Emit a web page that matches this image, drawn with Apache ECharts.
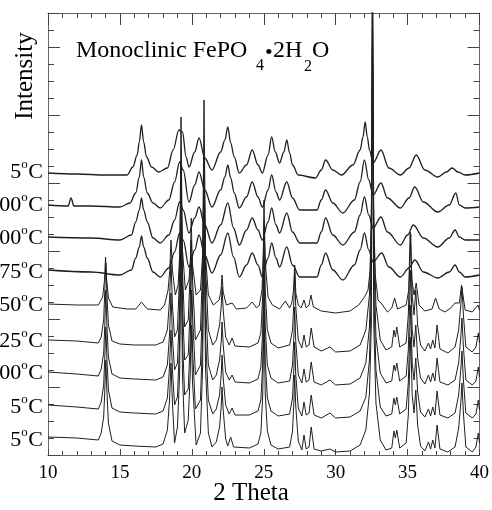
<!DOCTYPE html>
<html><head><meta charset="utf-8">
<script src="https://cdn.jsdelivr.net/npm/echarts@6/dist/echarts.min.js"></script>
<style>html,body{margin:0;padding:0;background:#fff}#c{width:492px;height:510px}</style>
</head><body><div id="c"></div>
<script>
// ---- data (2-theta, stacked intensity in arbitrary units) ----
const xTicks = [10, 15, 20, 25, 30, 35, 40];
const tempLabels = ['5', '00', '00', '75', '50', '25', '00', '5', '5'];

const trace1 = [[10,282],[12,281],[14,280],[15.5,280],[15.9,288],[16.2,300],[16.35,313],[16.5,330],[16.65,313],[16.85,298],[17.2,288],[17.7,283],[18.3,287],[18.7,305],[19.1,325],[19.35,323],[19.6,298],[19.8,288],[20.2,303],[20.5,317],[20.9,297],[21.4,285],[22.0,303],[22.3,315],[22.5,328],[22.7,312],[22.95,298],[23.3,282],[23.8,290],[24.2,305],[24.6,290],[24.9,282],[25.3,300],[25.55,318],[25.8,303],[26.1,292],[26.4,303],[26.6,315],[26.8,302],[27.0,290],[27.4,280],[28.6,277],[29.0,285],[29.3,295],[29.8,285],[30.4,280],[31.2,290],[31.7,305],[31.9,318],[32.05,333],[32.2,318],[32.35,305],[32.6,292],[33.15,305],[33.7,287],[34.5,280],[35.1,287],[35.6,300],[36.2,285],[37.1,278],[37.7,283],[38.1,287],[38.5,283],[39.0,280],[40,282]];
const trace2 = [[10,250],[11.4,249],[11.6,257],[11.8,249],[13,249],[15.0,248],[15.7,252],[16.1,262],[16.35,278],[16.5,295],[16.65,278],[16.9,262],[17.3,252],[17.8,247],[18.4,255],[18.8,273],[19.15,293],[19.4,285],[19.8,253],[20.2,270],[20.5,283],[20.9,265],[21.4,248],[22.0,265],[22.3,278],[22.5,290],[22.7,277],[22.95,262],[23.3,247],[23.8,258],[24.2,273],[24.6,258],[24.9,248],[25.3,265],[25.55,280],[25.85,263],[26.1,255],[26.6,273],[27.0,257],[27.5,245],[28.7,245],[29.0,255],[29.3,265],[29.8,252],[30.5,242],[31.3,255],[31.7,273],[32.0,295],[32.3,275],[32.6,260],[33.15,272],[33.6,257],[34.5,247],[35.1,257],[35.5,268],[36.1,253],[37.1,243],[37.9,250],[38.35,262],[38.6,250],[39.0,247],[40,248]];
const trace3 = [[10,218],[13,217],[15.0,215],[15.8,220],[16.1,233],[16.35,245],[16.5,257],[16.65,245],[16.9,233],[17.3,217],[17.8,212],[18.4,220],[18.8,235],[19.15,253],[19.4,245],[19.8,222],[20.2,237],[20.5,248],[20.9,230],[21.4,212],[22.0,230],[22.5,252],[22.9,227],[23.3,210],[23.8,225],[24.2,237],[24.6,225],[24.9,215],[25.3,233],[25.55,247],[25.85,230],[26.1,222],[26.6,242],[27.0,223],[27.5,212],[28.7,212],[29.0,223],[29.3,237],[29.8,220],[30.5,210],[31.3,223],[31.7,240],[32.0,258],[32.3,240],[32.6,227],[33.15,238],[33.6,223],[34.5,210],[35.0,220],[35.4,230],[36.1,217],[37.1,208],[37.9,217],[38.3,225],[38.6,218],[39.0,215],[40,215]];
const trace4 = [[10,185],[13,183],[15.0,180],[15.8,185],[16.1,197],[16.35,208],[16.5,219],[16.65,208],[16.9,197],[17.3,183],[17.8,178],[18.4,187],[18.8,203],[19.15,222],[19.4,215],[19.8,188],[20.2,205],[20.5,220],[20.9,200],[21.4,182],[22.0,200],[22.5,222],[22.9,198],[23.3,178],[23.8,190],[24.2,202],[24.6,190],[24.9,178],[25.3,197],[25.55,212],[25.85,197],[26.1,188],[26.6,208],[27.0,190],[27.5,178],[28.7,178],[29.0,190],[29.3,202],[29.8,185],[30.5,175],[31.3,190],[31.7,205],[32.0,222],[32.3,205],[32.6,193],[33.2,202],[33.7,188],[34.5,178],[35.1,187],[35.5,195],[36.1,183],[37.1,177],[37.9,183],[38.3,190],[38.6,183],[39.0,178],[40,180]];
const trace5 = [[10,151],[12,150],[13.5,150],[13.8,158],[13.93,175],[14.0,198],[14.08,175],[14.2,157],[14.5,148],[15.5,146],[16.1,146],[16.5,153],[16.9,146],[17.8,145],[18.1,150],[18.35,165],[18.47,185],[18.55,215],[18.65,185],[18.85,160],[19.05,170],[19.17,205],[19.25,275],[19.35,205],[19.55,165],[19.8,175],[19.9,195],[19.95,215],[20.05,190],[20.3,160],[20.6,165],[20.75,200],[20.85,295],[20.95,200],[21.15,160],[21.5,150],[21.9,155],[22.03,165],[22.1,180],[22.18,163],[22.4,150],[22.8,152],[23.1,146],[23.8,147],[24.2,153],[24.5,147],[24.7,150],[24.88,165],[24.97,200],[25.03,235],[25.12,190],[25.3,158],[25.6,150],[26.1,146],[26.5,154],[26.8,147],[26.95,152],[27.07,165],[27.15,190],[27.23,162],[27.4,150],[27.6,147],[27.8,155],[27.95,147],[28.15,150],[28.28,160],[28.45,148],[29.0,144],[30.0,142],[31.0,144],[31.6,150],[32.0,158],[32.25,165],[32.4,185],[32.5,260],[32.56,460],[32.63,250],[32.75,180],[32.95,155],[33.15,152],[33.6,143],[33.9,147],[34.1,157],[34.3,146],[34.9,150],[35.08,165],[35.18,223],[35.3,175],[35.45,160],[35.6,172],[35.8,150],[36.2,144],[36.7,146],[36.95,157],[37.2,146],[37.6,143],[38.0,147],[38.3,152],[38.6,152],[38.75,170],[38.85,160],[39.0,145],[39.5,143],[39.9,150],[40,145]];
const trace6 = [[10,115],[12,114],[13.5,112],[13.7,118],[13.87,135],[13.95,165],[14.02,192],[14.1,160],[14.2,130],[14.45,114],[15,111],[16,110],[17.5,110],[18.0,113],[18.3,125],[18.45,155],[18.55,195],[18.65,150],[18.8,118],[19.0,125],[19.15,180],[19.25,338],[19.35,185],[19.5,128],[19.75,135],[19.88,180],[19.96,237],[20.05,175],[20.25,115],[20.6,125],[20.75,190],[20.85,355],[20.95,190],[21.15,125],[21.45,110],[21.7,115],[21.93,130],[22.05,150],[22.1,168],[22.18,145],[22.35,118],[22.6,110],[22.8,117],[23.0,109],[24.0,108],[24.6,112],[24.8,122],[24.93,160],[25.02,255],[25.1,165],[25.25,125],[25.5,112],[26.0,107],[26.8,110],[27.0,125],[27.1,155],[27.15,183],[27.22,150],[27.4,115],[27.65,107],[27.8,120],[27.95,108],[28.15,110],[28.3,127],[28.5,108],[29.0,104],[29.6,108],[30.0,103],[31.0,104],[31.7,110],[32.1,125],[32.35,160],[32.48,230],[32.56,500],[32.65,230],[32.8,150],[33.1,115],[33.5,105],[33.9,108],[34.05,125],[34.15,118],[34.25,128],[34.45,108],[34.9,112],[35.05,140],[35.15,190],[35.22,221],[35.32,160],[35.45,140],[35.57,165],[35.7,130],[35.9,110],[36.2,104],[36.45,112],[36.6,106],[36.75,115],[36.9,107],[37.05,130],[37.25,106],[37.8,102],[38.3,108],[38.55,125],[38.7,150],[38.78,168],[38.88,140],[39.05,108],[39.5,103],[39.75,108],[39.92,122],[40,112]];
const trace7 = [[10,83],[12,81],[13.5,79],[13.7,86],[13.87,102],[13.95,130],[14.02,165],[14.1,128],[14.2,98],[14.45,81],[15,77],[16,76],[17.5,75],[18.0,78],[18.3,90],[18.45,120],[18.55,162],[18.65,118],[18.8,85],[19.0,92],[19.15,145],[19.25,290],[19.35,150],[19.5,95],[19.75,100],[19.88,145],[19.96,200],[20.05,140],[20.25,80],[20.6,90],[20.75,155],[20.85,300],[20.95,155],[21.15,90],[21.45,75],[21.7,80],[21.93,95],[22.05,115],[22.1,133],[22.18,110],[22.35,83],[22.6,75],[22.8,80],[23.0,73],[24.0,72],[24.6,76],[24.8,88],[24.93,125],[25.02,210],[25.1,130],[25.25,90],[25.5,77],[26.0,72],[26.8,74],[27.0,90],[27.1,120],[27.15,148],[27.22,115],[27.4,80],[27.65,72],[27.8,86],[27.95,73],[28.15,75],[28.3,93],[28.5,73],[29.0,70],[29.6,75],[30.0,70],[31.0,71],[31.7,77],[32.1,92],[32.35,128],[32.48,200],[32.56,470],[32.65,200],[32.8,118],[33.1,82],[33.5,72],[33.9,74],[34.05,90],[34.15,84],[34.25,92],[34.45,74],[34.9,79],[35.05,105],[35.15,155],[35.22,185],[35.32,125],[35.45,108],[35.57,130],[35.7,97],[35.9,77],[36.2,71],[36.45,80],[36.6,73],[36.75,82],[36.9,74],[37.05,97],[37.25,73],[37.8,70],[38.3,75],[38.55,92],[38.7,118],[38.78,137],[38.88,108],[39.05,75],[39.5,70],[39.75,74],[39.92,88],[40,78]];
const trace8 = [[10,50],[12,48],[13.5,46],[13.7,53],[13.87,70],[13.95,98],[14.02,128],[14.1,95],[14.2,65],[14.45,47],[15,43],[16,42],[17.5,41],[18.0,44],[18.3,57],[18.45,88],[18.55,125],[18.65,85],[18.8,50],[19.0,58],[19.15,112],[19.25,250],[19.35,115],[19.5,60],[19.75,66],[19.88,110],[19.96,165],[20.05,105],[20.25,46],[20.6,55],[20.75,120],[20.85,270],[20.95,120],[21.15,55],[21.45,41],[21.7,46],[21.93,60],[22.05,82],[22.1,100],[22.18,77],[22.35,50],[22.6,41],[22.8,47],[23.0,40],[24.0,40],[24.6,44],[24.8,55],[24.93,92],[25.02,180],[25.1,95],[25.25,57],[25.5,44],[26.0,39],[26.8,41],[27.0,57],[27.1,88],[27.15,113],[27.22,82],[27.4,47],[27.65,39],[27.8,53],[27.95,40],[28.15,42],[28.3,60],[28.5,40],[29.0,37],[29.6,42],[30.0,37],[31.0,38],[31.7,44],[32.1,58],[32.35,95],[32.48,165],[32.56,440],[32.65,165],[32.8,85],[33.1,48],[33.5,39],[33.9,41],[34.05,57],[34.15,50],[34.25,58],[34.45,41],[34.9,46],[35.05,72],[35.15,120],[35.22,150],[35.32,92],[35.45,75],[35.57,97],[35.7,63],[35.9,43],[36.2,38],[36.45,46],[36.6,39],[36.75,48],[36.9,40],[37.05,64],[37.25,40],[37.8,37],[38.3,42],[38.55,60],[38.7,85],[38.78,104],[38.88,75],[39.05,42],[39.5,37],[39.75,41],[39.92,55],[40,45]];
const trace9 = [[10,18],[12,17],[13.5,15],[13.7,22],[13.87,38],[13.95,65],[14.02,95],[14.1,62],[14.2,32],[14.45,14],[15,10],[16,9],[17.5,8],[18.0,11],[18.3,25],[18.45,55],[18.55,92],[18.65,52],[18.8,12],[19.0,28],[19.15,80],[19.25,215],[19.35,80],[19.5,22],[19.75,35],[19.88,78],[19.96,130],[20.05,72],[20.3,10],[20.6,22],[20.75,88],[20.85,235],[20.95,88],[21.15,22],[21.4,8],[21.7,13],[21.93,28],[22.05,50],[22.1,68],[22.18,45],[22.35,16],[22.5,9],[22.7,18],[22.9,8],[24.0,7],[24.6,11],[24.8,22],[24.93,60],[25.02,145],[25.1,62],[25.25,24],[25.5,10],[26.0,6],[26.8,8],[27.0,24],[27.1,55],[27.15,80],[27.22,50],[27.4,14],[27.65,5],[27.8,20],[27.95,6],[28.15,8],[28.3,28],[28.5,6],[29.0,4],[29.6,6],[30.0,3],[31.0,4],[31.7,10],[32.1,25],[32.35,62],[32.48,130],[32.56,410],[32.65,130],[32.8,52],[33.1,15],[33.5,5],[33.9,7],[34.05,24],[34.15,17],[34.25,25],[34.45,7],[34.9,12],[35.05,40],[35.15,88],[35.22,118],[35.32,60],[35.45,42],[35.57,65],[35.7,30],[35.9,9],[36.2,4],[36.45,13],[36.6,6],[36.75,15],[36.9,7],[37.05,30],[37.25,6],[37.8,3],[38.3,8],[38.55,27],[38.7,52],[38.78,72],[38.88,42],[39.05,8],[39.5,3],[39.75,8],[39.92,22],[40,12]];
const traces = [trace1, trace2, trace3, trace4, trace5, trace6, trace7, trace8, trace9];

// ---- layout ----
const serif = 'Liberation Serif';
const ctx = document.createElement('canvas').getContext('2d');
function tw(t, s) { ctx.font = s + 'px "' + serif + '"'; return ctx.measureText(t).width; }
const graphics = [];
function txt(x, y, t, s, align, extra) {
  graphics.push(Object.assign({ type: 'text', x: x, y: y, silent: true,
    style: { text: t, fontFamily: serif, fontSize: s, fill: '#000', align: align || 'left', verticalAlign: 'middle' } }, extra || {}));
}
// temperature labels (right edge at 43px)
const labelYs = [172, 205, 238, 272, 305, 341, 373, 407, 440];
tempLabels.forEach(function (d, i) {
  const y = labelYs[i];
  const wC = tw('C', 22), wo = tw('o', 13);
  txt(43 - wC, y, 'C', 22);
  txt(43 - wC - wo - 0.5, y - 7, 'o', 13);
  txt(43 - wC - wo - 0.5, y, d, 22, 'right');
});
// title with subscripts
txt(76, 51, 'Monoclinic FePO', 24);
txt(256, 66, '4', 16);
txt(265, 53, '\u2022', 22);
txt(273, 51, '2H', 24);
txt(304, 67, '2', 16);
txt(312, 51, 'O', 24);
// axis names
txt(25, 76, 'Intensity', 25, 'center', { rotation: Math.PI / 2 });
txt(251, 493, '2 Theta', 25, 'center');

const axisGray = '#666';
function yAx(pos, interval, len, showLine) {
  return { type: 'value', position: pos, min: 0, max: 442, interval: interval,
    axisLine: { show: showLine, lineStyle: { color: axisGray, width: 1 } },
    axisTick: { show: true, inside: true, length: len, lineStyle: { color: '#444' } },
    axisLabel: { show: false }, splitLine: { show: false } };
}
function xAx(pos, majorLen, minorLen, labels) {
  return { type: 'value', position: pos, min: 10, max: 40, interval: 5,
    axisLine: { show: true, onZero: false, lineStyle: { color: axisGray, width: 1 } },
    axisTick: { show: true, inside: true, length: majorLen, lineStyle: { color: '#444' } },
    minorTick: { show: true, splitNumber: 5, length: minorLen, lineStyle: { color: '#444' } },
    axisLabel: { show: labels, fontFamily: serif, fontSize: 19, color: '#000', margin: 9 },
    splitLine: { show: false } };
}

const chart = echarts.init(document.getElementById('c'), null, { renderer: 'canvas' });
chart.setOption({
  animation: false,
  backgroundColor: '#fff',
  grid: { left: 48, right: 10, top: 13, bottom: 55 },
  xAxis: [xAx('bottom', 6, 4, true), xAx('top', 12, 5, false)],
  yAxis: [yAx('left', 17, 6, true), yAx('left', 68, 12, false), yAx('right', 17, 6, true), yAx('right', 68, 12, false)],
  series: traces.map(function (t, i) {
    const broad = i < 4;
    return { type: 'line', xAxisIndex: 0, yAxisIndex: 0, data: t, showSymbol: false, symbol: 'none',
      smooth: broad ? 0.35 : false, smoothMonotone: 'x',
      lineStyle: { color: '#1f1f1f', width: broad ? 1.3 : 1 }, clip: true, silent: true };
  }),
  graphic: graphics
});
</script>
</body></html>
